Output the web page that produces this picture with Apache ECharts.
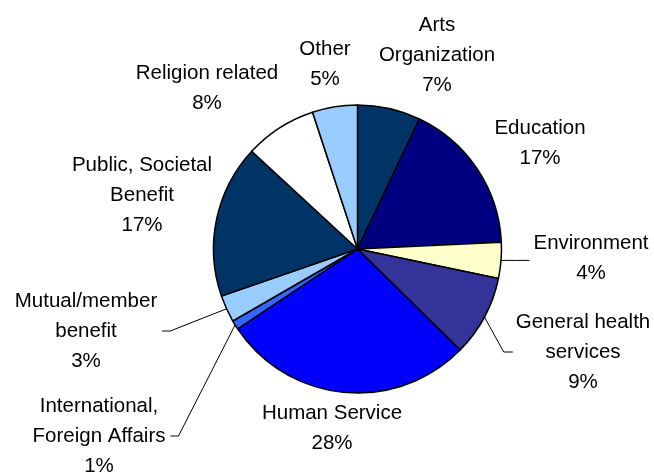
<!DOCTYPE html>
<html>
<head>
<meta charset="utf-8">
<title>Nonprofit organizations by sector</title>
<script src="https://cdn.jsdelivr.net/npm/echarts@6/dist/echarts.min.js"></script>
<style>
  html, body { margin: 0; padding: 0; background: #fff; }
  #chart { width: 654px; height: 475px; }
</style>
</head>
<body>
<div id="chart"></div>
<script>
// Sectors, clockwise from 12 o'clock
const categories = [
  'Arts\nOrganization',
  'Education',
  'Environment',
  'General health\nservices',
  'Human Service',
  'International,\nForeign Affairs',
  'Mutual/member\nbenefit',
  'Public, Societal\nBenefit',
  'Religion related',
  'Other'
];
// Share of organizations, percent
const shares = [7, 17, 4, 9, 28, 1, 3, 17, 8, 5];

// Slice fills
const sliceColors = [
  '#003366', '#000080', '#FFFFCC', '#333399', '#0000FF',
  '#3366FF', '#99CCFF', '#003366', '#FFFFFF', '#99CCFF'
];

// Where each label block is centred (px)
const labelSpots = [
  [437, 55], [540, 143], [591, 258], [583, 352], [332, 428],
  [99, 436], [86, 331], [142, 195], [207, 88], [325, 64]
];
// Leader lines: which side of the pie the label sits on (null = no line)
const leaderSide = [null, null, 'right', 'right', null, 'left', 'left', null, null, null];

const chart = echarts.init(document.getElementById('chart'), null, { renderer: 'canvas' });

const data = categories.map((name, i) => ({
  name: name,
  value: shares[i],
  itemStyle: { color: sliceColors[i] },
  labelLine: { show: leaderSide[i] !== null }
}));

chart.setOption({
  animation: false,
  backgroundColor: '#ffffff',
  series: [{
    type: 'pie',
    center: [357.5, 249],
    radius: 144,
    startAngle: 90,
    clockwise: true,
    avoidLabelOverlap: false,
    silent: true,
    data: data,
    itemStyle: { borderColor: '#000000', borderWidth: 1.5 },
    label: {
      show: true,
      position: 'outside',
      formatter: '{b}\n{c}%',
      color: '#000000',
      fontFamily: '"Liberation Sans", Arial, sans-serif',
      fontSize: 20.5,
      lineHeight: 30,
      align: 'center'
    },
    labelLine: {
      show: false,
      lineStyle: { color: '#000000', width: 1 }
    },
    labelLayout: function (p) {
      const i = p.dataIndex;
      const spot = labelSpots[i];
      const out = { x: spot[0], y: spot[1], align: 'center', verticalAlign: 'middle' };
      const side = leaderSide[i];
      if (side && p.labelLinePoints) {
        const start = p.labelLinePoints[0];
        const halfW = p.labelRect.width / 2;
        if (i === 2) {
          const endX = spot[0] - halfW - 4;
          out.labelLinePoints = [start, [(start[0] + endX) / 2, start[1]], [endX, start[1]]];
        } else if (side === 'right') {
          const edge = spot[0] - halfW;
          out.labelLinePoints = [start, [edge - 12, spot[1]], [edge - 3, spot[1]]];
        } else {
          const edge = spot[0] + halfW;
          out.labelLinePoints = [start, [edge + 13, spot[1]], [edge + 5, spot[1]]];
        }
      }
      return out;
    }
  }]
});
</script>
</body>
</html>
